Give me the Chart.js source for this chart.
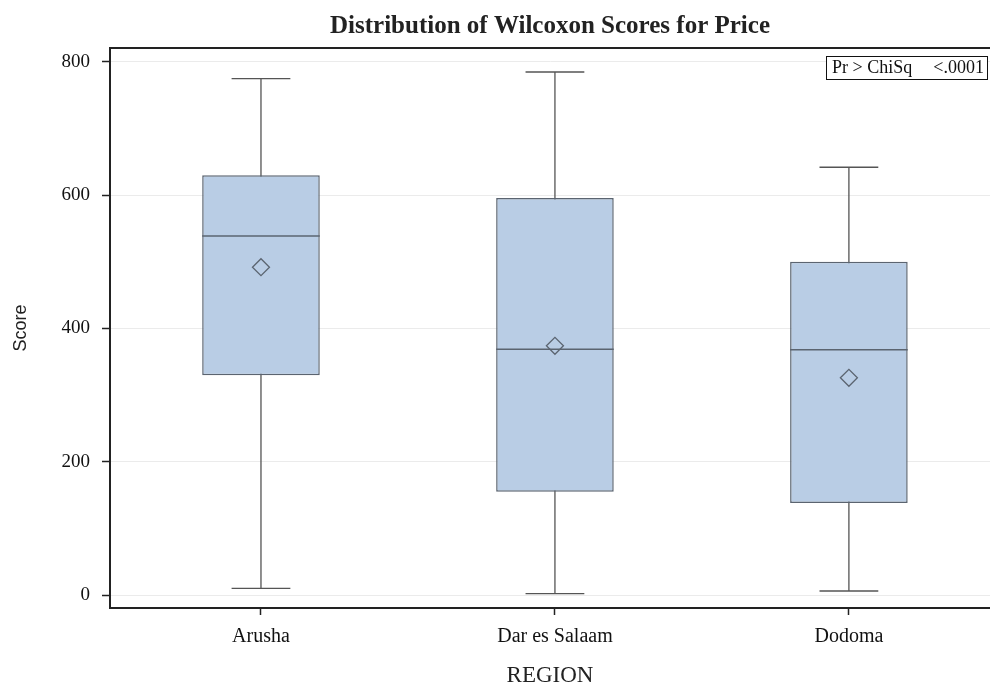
<!DOCTYPE html>
<html>
<head>
<meta charset="utf-8">
<script src="https://cdn.jsdelivr.net/npm/chart.js@4.4.0/dist/chart.umd.min.js"></script>
<style>
  html, body { margin: 0; padding: 0; background: #ffffff; }
  #wrap { width: 990px; height: 684px; }
</style>
</head>
<body>
<div id="wrap"><canvas id="c" width="990" height="684"></canvas></div>
<script>
// Wilcoxon score distribution by region
const regions      = ['Arusha', 'Dar es Salaam', 'Dodoma'];
const whiskerLow   = [10, 2, 6];
const quartile1    = [330, 155, 138];
const medians      = [539, 369, 368];
const quartile3    = [630, 596, 500];
const whiskerHigh  = [775, 785, 642];
const means        = [492, 374, 326];
const scoreTicks   = [0, 200, 400, 600, 800];
const insetLabel   = 'Pr > ChiSq';
const insetValue   = '<.0001';

const SERIF = "'Liberation Serif', 'Times New Roman', serif";
const SANS  = "'Liberation Sans', 'DejaVu Sans', sans-serif";
const BOX_FILL = '#b9cde5';
const BOX_EDGE = '#5b6470';
const LINE = '#555555';
const AXIS = '#222222';

// whiskers behind the boxes, medians on top of them, frame and inset afterwards
const boxParts = {
  id: 'boxParts',
  beforeDatasetsDraw(chart) {
    const ctx = chart.ctx, x = chart.scales.x, y = chart.scales.y;
    const bars = chart.getDatasetMeta(0).data;
    ctx.save();
    ctx.strokeStyle = LINE;
    ctx.lineWidth = 1.3;
    regions.forEach((r, i) => {
      const cx = x.getPixelForValue(i);
      const half = bars[i].width / 4;
      const yLo = y.getPixelForValue(whiskerLow[i]);
      const yHi = y.getPixelForValue(whiskerHigh[i]);
      ctx.beginPath();
      ctx.moveTo(cx, yLo); ctx.lineTo(cx, yHi);
      ctx.moveTo(cx - half, yLo); ctx.lineTo(cx + half, yLo);
      ctx.moveTo(cx - half, yHi); ctx.lineTo(cx + half, yHi);
      ctx.stroke();
    });
    ctx.restore();
  },
  afterDatasetDraw(chart, args) {
    if (args.index !== 0) return;
    const ctx = chart.ctx, y = chart.scales.y;
    const bars = chart.getDatasetMeta(0).data;
    ctx.save();
    ctx.strokeStyle = BOX_EDGE;
    ctx.lineWidth = 1.5;
    regions.forEach((r, i) => {
      const b = bars[i];
      const ym = y.getPixelForValue(medians[i]);
      ctx.beginPath();
      ctx.moveTo(b.x - b.width / 2, ym);
      ctx.lineTo(b.x + b.width / 2, ym);
      ctx.stroke();
    });
    ctx.restore();
  },
  afterDraw(chart) {
    const ctx = chart.ctx, a = chart.chartArea;
    ctx.save();
    // top edge of the plot frame
    ctx.strokeStyle = AXIS;
    ctx.lineWidth = 2;
    ctx.beginPath();
    ctx.moveTo(a.left - 1, a.top);
    ctx.lineTo(a.right, a.top);
    ctx.stroke();
    // p-value inset
    const w = 161, h = 23;
    const bx = a.right - 3 - w, by = a.top + 8;
    ctx.fillStyle = '#ffffff';
    ctx.fillRect(bx, by, w, h);
    ctx.strokeStyle = '#111111';
    ctx.lineWidth = 1;
    ctx.strokeRect(bx + 0.5, by + 0.5, w, h);
    ctx.fillStyle = '#111111';
    ctx.font = '18px ' + SERIF;
    ctx.textBaseline = 'middle';
    ctx.textAlign = 'left';
    ctx.fillText(insetLabel, bx + 6, by + h / 2 + 1);
    ctx.textAlign = 'right';
    ctx.fillText(insetValue, bx + w - 3, by + h / 2 + 1);
    ctx.restore();
  }
};

new Chart(document.getElementById('c'), {
  type: 'bar',
  data: {
    datasets: [
      {
        type: 'bar',
        label: 'Interquartile range',
        order: 2,
        data: regions.map((r, i) => ({ x: i, y: [quartile1[i], quartile3[i]] })),
        backgroundColor: BOX_FILL,
        borderColor: BOX_EDGE,
        borderWidth: 1.5,
        borderSkipped: false,
        barPercentage: 0.5,
        categoryPercentage: 0.8
      },
      {
        type: 'scatter',
        label: 'Mean',
        order: 1,
        data: regions.map((r, i) => ({ x: i, y: means[i] })),
        pointStyle: 'rectRot',
        pointRadius: 8.5,
        borderColor: BOX_EDGE,
        backgroundColor: 'rgba(0,0,0,0)',
        borderWidth: 1.3
      }
    ]
  },
  options: {
    responsive: false,
    animation: false,
    devicePixelRatio: 1,
    layout: { padding: 0, autoPadding: false },
    plugins: {
      legend: { display: false },
      tooltip: { enabled: false },
      title: {
        display: true,
        text: 'Distribution of Wilcoxon Scores for Price',
        fullSize: false,
        color: '#222222',
        font: { family: SERIF, size: 25, weight: 'bold', lineHeight: 1.2 },
        padding: { top: 12, bottom: 6 }
      }
    },
    scales: {
      x: {
        type: 'linear',
        offset: false,
        min: -0.5136,
        max: 2.48,
        afterBuildTicks(axis) { axis.ticks = regions.map((r, i) => ({ value: i })); },
        afterFit(axis) { axis.height = 76; axis.paddingLeft = 0; axis.paddingRight = 0; },
        ticks: {
          callback: v => regions[v],
          color: '#111111',
          font: { family: SERIF, size: 20 },
          padding: 10,
          maxRotation: 0,
          autoSkip: false
        },
        grid: { offset: false, drawOnChartArea: false, drawTicks: true, tickLength: 7, tickColor: AXIS, tickWidth: 1.5 },
        border: { color: AXIS, width: 2 },
        title: {
          display: true,
          text: 'REGION',
          color: '#222222',
          font: { family: SERIF, size: 23, lineHeight: 0.7 },
          padding: { top: 0, bottom: 0 }
        }
      },
      y: {
        min: -19.5,
        max: 821,
        afterBuildTicks(axis) { axis.ticks = scoreTicks.map(v => ({ value: v })); },
        afterFit(axis) { axis.width = 110; },
        ticks: {
          color: '#111111',
          font: { family: SERIF, size: 19 },
          padding: 12
        },
        grid: { color: '#ebebeb', lineWidth: 1, tickColor: AXIS, tickLength: 8, tickWidth: 1.5 },
        border: { color: AXIS, width: 2 },
        title: {
          display: true,
          text: 'Score',
          color: '#222222',
          font: { family: SANS, size: 18, lineHeight: 1.2 },
          padding: { top: 10, bottom: 0 }
        }
      }
    }
  },
  plugins: [boxParts]
});
</script>
</body>
</html>
